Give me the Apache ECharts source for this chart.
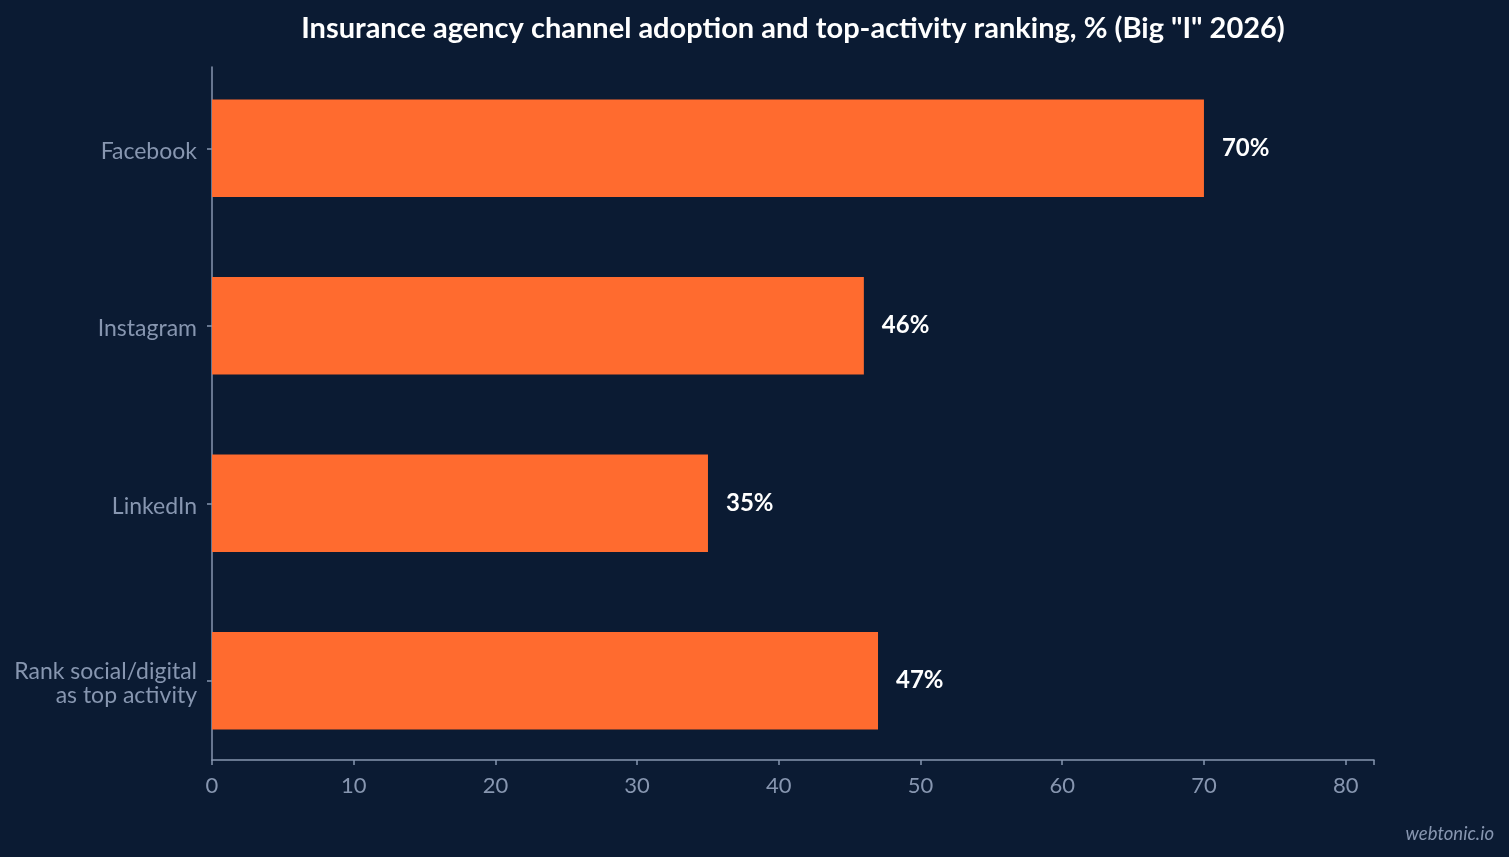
<!DOCTYPE html>
<html>
<head>
<meta charset="utf-8">
<script src="https://cdn.jsdelivr.net/npm/echarts@6/dist/echarts.min.js"></script>
<style>
html,body{margin:0;padding:0;background:#0b1b33;}
#c{width:1509px;height:857px;}
</style>
</head>
<body>
<div id="c"></div>
<script>
var categories = ['Facebook', 'Instagram', 'LinkedIn', 'Rank social/digital\nas top activity'];
var values = [70, 46, 35, 47];
var xTicks = [0, 10, 20, 30, 40, 50, 60, 70, 80];
var titleText = 'Insurance agency channel adoption and top-activity ranking, % (Big "I" 2026)';

var axisColor = '#8796b0';
var font = 'Lato, "Noto Sans", sans-serif';
var chart = echarts.init(document.getElementById('c'));
chart.setOption({
  backgroundColor: '#0b1b33',
  animation: false,
  title: {
    text: titleText,
    left: 788, top: 9, textAlign: 'center',
    textStyle: {color: '#ffffff', fontFamily: font, fontWeight: 'bold', fontSize: 29}
  },
  graphic: [{
    type: 'text', right: 15, bottom: 13,
    style: {text: 'webtonic.io', fill: axisColor, font: 'italic 18.5px Lato, sans-serif'}
  }],
  grid: [
    {left: 212, right: 135, top: 59.5, bottom: 87.5},
    {left: 212, right: 135, top: 67, bottom: 97}
  ],
  xAxis: [
    {gridIndex: 0, type: 'value', min: 0, max: 82, interval: 10, show: false},
    {gridIndex: 1, type: 'value', min: 0, max: 82, interval: 10,
     splitLine: {show: false},
     axisLine: {show: true, lineStyle: {color: axisColor, width: 1.5}},
     axisTick: {show: true, length: 5, lineStyle: {color: axisColor, width: 1.5}},
     axisLabel: {color: axisColor, fontFamily: font, fontSize: 22, margin: 15,
       formatter: function (v) { return xTicks.indexOf(v) >= 0 ? String(v) : ''; }}
    }
  ],
  yAxis: [
    {gridIndex: 0, type: 'category', data: categories, inverse: true,
     axisLine: {show: false},
     axisTick: {show: true, alignWithLabel: true, length: 5, lineStyle: {color: axisColor, width: 1.5}},
     axisLabel: {color: axisColor, fontFamily: font, fontSize: 23, margin: 15, align: 'right',
       formatter: function (v) {
         return '{p|}\n' + v.split('\n').map(function (s) { return '{a|' + s + '}'; }).join('\n');
       },
       rich: {
         a: {color: axisColor, fontFamily: font, fontSize: 23, lineHeight: 24, align: 'right'},
         p: {fontSize: 1, lineHeight: 6}
       }
     }
    },
    {gridIndex: 1, type: 'value', min: 0, max: 1,
     axisLine: {show: true, lineStyle: {color: axisColor, width: 1.5}},
     axisTick: {show: false}, axisLabel: {show: false}, splitLine: {show: false}
    }
  ],
  series: [{
    type: 'bar', xAxisIndex: 0, yAxisIndex: 0,
    data: values, barWidth: '55%',
    itemStyle: {color: '#ff6b2f'},
    label: {show: true, position: 'right', distance: 18, color: '#ffffff',
      fontFamily: font, fontWeight: 'bold', fontSize: 24, padding: [2, 0, 0, 0],
      formatter: function (p) { return p.value + '%'; }}
  }]
});
</script>
</body>
</html>
